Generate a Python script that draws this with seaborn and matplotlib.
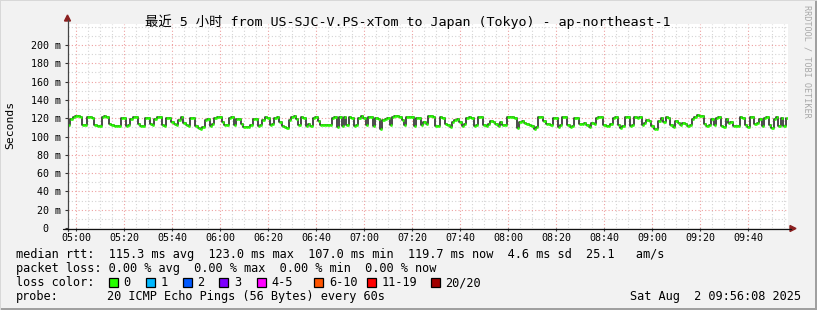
import numpy as np
import pandas as pd
import matplotlib
matplotlib.use("Agg")
import matplotlib.pyplot as plt
import matplotlib.dates as mdates
import seaborn as sns
from matplotlib.patches import Rectangle, Polygon
from matplotlib.lines import Line2D
from matplotlib.ticker import FixedLocator, FixedFormatter, MultipleLocator

# ---------------- data ----------------
start_time = "2025-08-02 04:56:40"
step_minutes = 1
rtt_ms = [
    113, 119, 121, 122, 122, 121, 113, 113, 121, 121, 120, 113, 112, 112, 121,
    122, 121, 114, 113, 111, 111, 111, 120, 120, 112, 113, 119, 121, 121, 114,
    112, 111, 120, 120, 114, 113, 119, 121, 121, 113, 112, 120, 120, 116, 114,
    113, 118, 121, 115, 113, 111, 120, 120, 112, 109, 108, 110, 118, 119, 112,
    114, 120, 121, 121, 116, 113, 113, 120, 121, 113, 119, 119, 114, 110, 110,
    110, 113, 119, 119, 111, 113, 118, 121, 120, 113, 114, 120, 121, 116, 112,
    110, 109, 118, 121, 122, 119, 113, 121, 120, 112, 114, 112, 120, 121, 117,
    113, 113, 113, 113, 113, 120, 121, 110, 121, 112, 121, 113, 121, 120, 112,
    113, 120, 122, 120, 113, 121, 121, 112, 120, 119, 108, 118, 119, 120, 113,
    121, 122, 122, 121, 118, 113, 121, 121, 121, 112, 120, 120, 113, 116, 114,
    122, 122, 121, 112, 111, 121, 120, 114, 113, 110, 116, 118, 119, 116, 112,
    114, 120, 121, 120, 112, 113, 121, 121, 113, 111, 114, 117, 116, 114, 112,
    116, 113, 113, 121, 121, 121, 120, 109, 116, 117, 115, 114, 113, 112, 108,
    110, 121, 121, 117, 114, 114, 113, 120, 120, 110, 113, 121, 121, 113, 110,
    112, 120, 120, 114, 114, 115, 113, 110, 115, 114, 120, 121, 121, 113, 112,
    111, 114, 120, 121, 113, 109, 111, 121, 121, 112, 113, 121, 120, 121, 113,
    115, 118, 117, 112, 108, 108, 117, 120, 116, 121, 120, 113, 110, 117, 115,
    113, 115, 114, 111, 113, 119, 121, 123, 122, 122, 114, 112, 113, 119, 113,
    120, 121, 112, 110, 119, 115, 116, 112, 112, 112, 121, 120, 113, 110, 121,
    121, 114, 115, 119, 112, 120, 121, 113, 109, 119, 121, 112, 120, 112, 120,
]
x_tick_labels = ["05:00", "05:20", "05:40", "06:00", "06:20", "06:40", "07:00",
                 "07:20", "07:40", "08:00", "08:20", "08:40", "09:00", "09:20", "09:40"]
y_ticks = [0, 20, 40, 60, 80, 100, 120, 140, 160, 180, 200]
y_tick_labels = ["0  ", "20 m", "40 m", "60 m", "80 m", "100 m", "120 m",
                 "140 m", "160 m", "180 m", "200 m"]
title = "最近 5 小时 from US-SJC-V.PS-xTom to Japan (Tokyo) - ap-northeast-1"
ylabel = "Seconds"
stats_rows = [
    "median rtt:  115.3 ms avg  123.0 ms max  107.0 ms min  119.7 ms now  4.6 ms sd  25.1   am/s",
    "packet loss: 0.00 % avg  0.00 % max  0.00 % min  0.00 % now",
]
loss_labels = ["0", "1", "2", "3", "4-5", "6-10", "11-19", "20/20"]
loss_colors = ["#26ff00", "#00b8ff", "#0059ff", "#7e00ff", "#ff00ff",
               "#ff5500", "#ff0000", "#a00000"]
probe_text = "20 ICMP Echo Pings (56 Bytes) every 60s"
date_text = "Sat Aug  2 09:56:08 2025"
watermark = "RRDTOOL / TOBI OETIKER"

# ---------------- setup ----------------
sns.set_theme(style="white")
plt.rcParams['font.family'] = ['DejaVu Sans Mono', 'Noto Sans CJK SC']

W, H = 817, 310
BG = "#f2f2f2"
fig = plt.figure(figsize=(W / 100, H / 100), dpi=100, facecolor=BG)

def fx(x):
    return x / W

def fy(y):
    return 1 - y / H

ax = fig.add_axes([fx(68), fy(228), 720 / W, 204 / H])
ax.set_facecolor("white")

t0 = pd.Timestamp(start_time)
times = pd.date_range(t0, periods=len(rtt_ms), freq=f"{step_minutes}min")
xnum = mdates.date2num(times.to_pydatetime())
dt = step_minutes / (24 * 60)
df = pd.DataFrame({"t": xnum, "rtt": rtt_ms})

# black step line (connectors)
sns.lineplot(data=df, x="t", y="rtt", drawstyle="steps-post", color="#1a1a1a",
             lw=1.1, ax=ax, zorder=3)
# green median segments (loss color 0)
ax.hlines(df["rtt"], df["t"], df["t"] + dt, colors=loss_colors[0], lw=1.9, zorder=4)

ax.set_xlim(xnum[0], xnum[0] + 300 / (24 * 60))
ax.set_ylim(0, 223)

# ticks
day = "2025-08-02 "
xt = mdates.date2num(pd.to_datetime([day + l for l in x_tick_labels]).to_pydatetime())
ax.xaxis.set_major_locator(FixedLocator(xt))
ax.xaxis.set_major_formatter(FixedFormatter(x_tick_labels))
ax.xaxis.set_minor_locator(MultipleLocator(5 / (24 * 60)))
ax.yaxis.set_major_locator(FixedLocator(y_ticks))
ax.yaxis.set_major_formatter(FixedFormatter(y_tick_labels))
ax.yaxis.set_minor_locator(MultipleLocator(10))

ax.tick_params(axis="both", which="both", direction="out", length=2.2, width=0.8,
               color="#333333", labelsize=7.2, labelcolor="black")
ax.tick_params(axis="y", which="both", pad=3)
ax.tick_params(axis="x", which="both", pad=1.5)
ax.tick_params(left=True, bottom=True)

ax.grid(True, which="minor", color="#d4d4d4", lw=0.8, linestyle=(0, (1, 2)))
ax.grid(True, which="major", color="#eea0a0", lw=0.8, linestyle=(0, (1, 2)))
ax.set_axisbelow(True)

for s in ["top", "right", "left", "bottom"]:
    ax.spines[s].set_visible(False)
ax.set_xlabel("")
ax.set_ylabel("")

# axes lines with arrows
fig.add_artist(Line2D([fx(67.5), fx(67.5)], [fy(231), fy(20)], color="#444444", lw=0.9))
fig.add_artist(Line2D([fx(63), fx(791)], [fy(228.5), fy(228.5)], color="#111111", lw=0.9))
arrow_c = "#8b2020"
fig.add_artist(Polygon([[fx(64.5), fy(21)], [fx(70.5), fy(21)], [fx(67.5), fy(15)]],
                       closed=True, color=arrow_c, transform=fig.transFigure))
fig.add_artist(Polygon([[fx(790), fy(225.5)], [fx(790), fy(231.5)], [fx(796), fy(228.5)]],
                       closed=True, color=arrow_c, transform=fig.transFigure))

# title & labels
fig.text(fx(408), fy(22), title, ha="center", va="center", fontsize=9.6, color="black")
fig.text(fx(10), fy(125), ylabel, ha="center", va="center", rotation=90,
         fontsize=8.2, color="black")
fig.text(fx(807), fy(5), watermark, ha="center", va="top", rotation=270,
         fontsize=6.1, color="#a8a8a8")

# legend rows
FS = 8.55
row_y = [254.5, 268.5, 282.5, 296.5]
for i, row in enumerate(stats_rows):
    fig.text(fx(16), fy(row_y[i]), row, ha="left", va="center", fontsize=FS, color="black")
fig.text(fx(16), fy(row_y[2]), "loss color:", ha="left", va="center", fontsize=FS, color="black")
box_x = [108.5, 145.5, 182.5, 219.5, 256.5, 314, 366.5, 430.5]
for bx, lbl, col in zip(box_x, loss_labels, loss_colors):
    fig.add_artist(Rectangle((fx(bx), fy(row_y[2] + 4.5)), 9 / W, 9 / H,
                             transform=fig.transFigure, facecolor=col,
                             edgecolor="black", lw=0.9))
    fig.text(fx(bx + 15), fy(row_y[2]), lbl, ha="left", va="center",
             fontsize=FS, color="black")
fig.text(fx(16), fy(row_y[3]), "probe:", ha="left", va="center", fontsize=FS, color="black")
fig.text(fx(107), fy(row_y[3]), probe_text, ha="left", va="center", fontsize=FS, color="black")
fig.text(fx(801), fy(row_y[3]), date_text, ha="right", va="center", fontsize=FS, color="black")

# frame shading
fig.add_artist(Rectangle((0, 0), 1, 2 / H, transform=fig.transFigure, color="#a0a0a0", lw=0))
fig.add_artist(Rectangle((1 - 2 / W, 0), 2 / W, 1, transform=fig.transFigure, color="#a0a0a0", lw=0))
fig.add_artist(Rectangle((0, 1 - 1 / H), 1, 1 / H, transform=fig.transFigure, color="#d8d8d8", lw=0))
fig.add_artist(Rectangle((0, 0), 1 / W, 1, transform=fig.transFigure, color="#d8d8d8", lw=0))

fig.savefig("out.png", dpi=100, facecolor=BG)
